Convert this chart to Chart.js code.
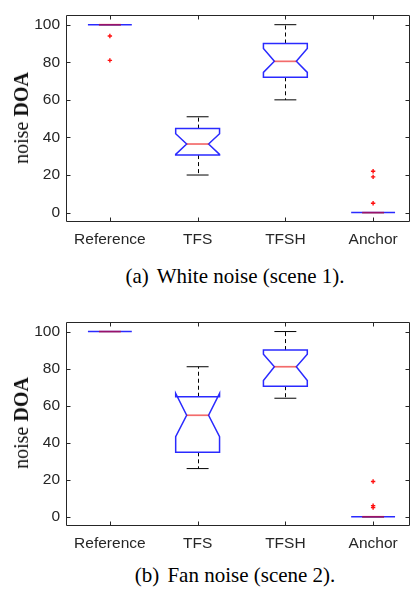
<!DOCTYPE html>
<html>
<head>
<meta charset="utf-8">
<script src="https://cdn.jsdelivr.net/npm/chart.js@4/dist/chart.umd.min.js"></script>
<style>
  html, body { margin: 0; padding: 0; background: #fff; }
  body { position: relative; width: 414px; height: 590px; overflow: hidden; }
  .panel { position: absolute; left: 0; width: 414px; }
  .panel canvas { display: block; }
  .ylab {
    position: absolute; left: 20.5px;
    font: 20px "Liberation Serif", "Times New Roman", serif; line-height: 20px;
    color: #111; white-space: nowrap;
    transform: translate(-50%, -50%) rotate(-90deg);
  }
  .caption {
    position: absolute; left: 235px; transform: translateX(-50%);
    font: 21px "Liberation Serif", "Times New Roman", serif; line-height: 24px;
    color: #000; white-space: nowrap;
  }
  .caption .tag { margin-right: 3px; }
</style>
</head>
<body>
<div class="panel" style="top:0"><canvas id="chart-white" width="414" height="250"></canvas></div>
<div class="ylab" style="top:118px">noise <b>DOA</b></div>
<div class="caption" style="top:264px"><span class="tag">(a)</span> White noise (scene 1).</div>

<div class="panel" style="top:307px"><canvas id="chart-fan" width="414" height="247"></canvas></div>
<div class="ylab" style="top:423px">noise <b>DOA</b></div>
<div class="caption" style="top:563px"><span class="tag">(b)</span> Fan noise (scene 2).</div>

<script>
'use strict';

// ── Data ────────────────────────────────────────────────
const categories = ['Reference', 'TFS', 'TFSH', 'Anchor'];
const yTicks     = [0, 20, 40, 60, 80, 100];

// (a) white noise, scene 1
const whiteWhiskerLow  = [100, 20,   60,   0];
const whiteQ1          = [100, 30.6, 72,   0];
const whiteNotchLow    = [100, 31,   74.6, 0];
const whiteMedian      = [100, 36.5, 80.5, 0];
const whiteNotchHigh   = [100, 42,   87.3, 0];
const whiteQ3          = [100, 44.7, 90,   0];
const whiteWhiskerHigh = [100, 51,   100,  0];
const whiteOutliers    = [[94, 81], [], [], [22, 19, 5]];

// (b) fan noise, scene 2
const fanWhiskerLow  = [100, 26,   64,   0];
const fanQ1          = [100, 34.8, 70.5, 0];
const fanNotchLow    = [100, 43.2, 73.6, 0];
const fanMedian      = [100, 54.8, 81,   0];
const fanNotchHigh   = [100, 66.6, 87.7, 0];
const fanQ3          = [100, 64.8, 90,   0];
const fanWhiskerHigh = [100, 81,   100,  0];
const fanOutliers    = [[], [], [], [19, 6, 5]];

// ── Style ───────────────────────────────────────────────
const BOX_HALF   = 0.25;   // box half width, in category units
const NOTCH_HALF = 0.125;  // half width at the notch waist / caps
const INK        = '#262626';
const TICK_FONT  = { family: '"Liberation Sans", Arial, Helvetica, sans-serif', size: 15.5 };

// ── Notched box plugin ──────────────────────────────────
const notchBoxes = {
  id: 'notchBoxes',
  beforeDatasetsDraw(chart, args, opts) {
    const { ctx } = chart;
    const xs = chart.scales.x, ys = chart.scales.y;
    const s  = opts.stats;
    const Y  = v => ys.getPixelForValue(v);

    ctx.save();
    categories.forEach((_, i) => {
      const c  = i + 1;
      const xc = Math.round(xs.getPixelForValue(c)) + 0.5;
      const xl = xs.getPixelForValue(c - BOX_HALF),   xr = xs.getPixelForValue(c + BOX_HALF);
      const nl = xs.getPixelForValue(c - NOTCH_HALF), nr = xs.getPixelForValue(c + NOTCH_HALF);

      // whiskers (dashed) + caps
      ctx.strokeStyle = '#000';
      ctx.lineWidth   = 1;
      ctx.setLineDash([4, 3]);
      ctx.beginPath();
      ctx.moveTo(xc, Y(s.q3[i])); ctx.lineTo(xc, Y(s.whiskerHigh[i]));
      ctx.moveTo(xc, Y(s.q1[i])); ctx.lineTo(xc, Y(s.whiskerLow[i]));
      ctx.stroke();
      ctx.setLineDash([]);
      ctx.beginPath();
      ctx.moveTo(nl, Y(s.whiskerHigh[i])); ctx.lineTo(nr, Y(s.whiskerHigh[i]));
      ctx.moveTo(nl, Y(s.whiskerLow[i]));  ctx.lineTo(nr, Y(s.whiskerLow[i]));
      ctx.stroke();

      // notched box outline
      ctx.strokeStyle = '#2a2aff';
      ctx.lineWidth   = 1.5;
      ctx.beginPath();
      ctx.moveTo(xl, Y(s.q1[i]));
      ctx.lineTo(xl, Y(s.notchLow[i]));
      ctx.lineTo(nl, Y(s.median[i]));
      ctx.lineTo(xl, Y(s.notchHigh[i]));
      ctx.lineTo(xl, Y(s.q3[i]));
      ctx.lineTo(xr, Y(s.q3[i]));
      ctx.lineTo(xr, Y(s.notchHigh[i]));
      ctx.lineTo(nr, Y(s.median[i]));
      ctx.lineTo(xr, Y(s.notchLow[i]));
      ctx.lineTo(xr, Y(s.q1[i]));
      ctx.closePath();
      ctx.stroke();

      // median
      ctx.strokeStyle = 'rgba(235,0,0,0.58)';
      ctx.lineWidth   = 1.7;
      ctx.beginPath();
      ctx.moveTo(nl, Y(s.median[i])); ctx.lineTo(nr, Y(s.median[i]));
      ctx.stroke();
    });
    ctx.restore();
  },

  // axes box with inward ticks, matlab style
  afterDraw(chart) {
    const { ctx, chartArea: a } = chart;
    const xs = chart.scales.x, ys = chart.scales.y;
    const L = Math.round(a.left) + 0.5, R = Math.round(a.right) - 0.5;
    const T = Math.round(a.top) + 0.5,  B = Math.round(a.bottom) - 0.5;
    const tl = 4;

    ctx.save();
    ctx.strokeStyle = INK;
    ctx.lineWidth   = 1;
    ctx.beginPath();
    ctx.rect(L, T, R - L, B - T);
    xs.ticks.forEach(t => {
      const px = Math.round(xs.getPixelForValue(t.value)) + 0.5;
      ctx.moveTo(px, B); ctx.lineTo(px, B - tl);
      ctx.moveTo(px, T); ctx.lineTo(px, T + tl);
    });
    ys.ticks.forEach(t => {
      const py = Math.round(ys.getPixelForValue(t.value)) + 0.5;
      ctx.moveTo(L, py); ctx.lineTo(L + tl, py);
      ctx.moveTo(R, py); ctx.lineTo(R - tl, py);
    });
    ctx.stroke();
    ctx.restore();
  },
};

// ── Chart factory ───────────────────────────────────────
function makeChart(id, stats, outliers, padRight) {
  const points = [];
  outliers.forEach((vals, i) => vals.forEach(v => points.push({ x: i + 1, y: v })));

  return new Chart(document.getElementById(id), {
    type: 'scatter',
    data: {
      datasets: [{
        data: points,
        pointStyle: 'cross',
        radius: 2.2, hoverRadius: 2.2,
        borderColor: '#ff1010', borderWidth: 1.4,
      }],
    },
    plugins: [notchBoxes],
    options: {
      responsive: false,
      animation: false,
      events: [],
      layout: { padding: { top: 14, right: padRight, left: 0, bottom: 0 } },
      plugins: {
        legend: { display: false },
        tooltip: { enabled: false },
        notchBoxes: { stats },
      },
      scales: {
        x: {
          type: 'linear', min: 0.5, max: 4.425,
          afterBuildTicks: s => { s.ticks = categories.map((_, i) => ({ value: i + 1 })); },
          afterFit: s => { s.height = 28; },
          grid: { display: false, drawTicks: false },
          border: { display: false },
          ticks: {
            callback: v => categories[v - 1],
            font: TICK_FONT, color: INK, padding: 8,
            autoSkip: false, maxRotation: 0,
          },
        },
        y: {
          type: 'linear', min: -5, max: 105,
          afterBuildTicks: s => { s.ticks = yTicks.map(v => ({ value: v })); },
          afterFit: s => { s.width = 66; },
          grid: { display: false, drawTicks: false },
          border: { display: false },
          ticks: { font: TICK_FONT, color: INK, padding: 6 },
        },
      },
    },
  });
}

// ── Boot ────────────────────────────────────────────────
makeChart('chart-white', {
  whiskerLow: whiteWhiskerLow, q1: whiteQ1, notchLow: whiteNotchLow, median: whiteMedian,
  notchHigh: whiteNotchHigh, q3: whiteQ3, whiskerHigh: whiteWhiskerHigh,
}, whiteOutliers, 1);

makeChart('chart-fan', {
  whiskerLow: fanWhiskerLow, q1: fanQ1, notchLow: fanNotchLow, median: fanMedian,
  notchHigh: fanNotchHigh, q3: fanQ3, whiskerHigh: fanWhiskerHigh,
}, fanOutliers, 2);
</script>
</body>
</html>
